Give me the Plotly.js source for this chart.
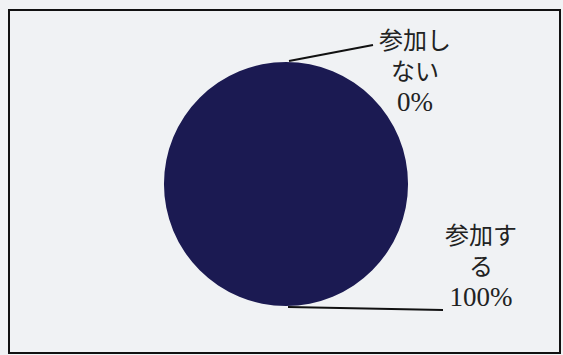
<!DOCTYPE html>
<html>
<head>
<meta charset="utf-8">
<script src="https://cdn.plot.ly/plotly-3.0.1.min.js"></script>
<style>html,body{margin:0;padding:0;background:#f0f2f4;}#chart{width:563px;height:355px;}</style>
</head>
<body>
<div id="chart"></div>
<script>
// Data
var categories = ['参加しない', '参加する'];
var values = [0, 100];
var labelLines = [['参加し', 'ない'], ['参加す', 'る']];
var colors = ['#ffffff', '#1b1a52'];

var W = 563, H = 355;
function px(x) { return x / W; }
function py(y) { return 1 - y / H; }

var total = values.reduce(function (a, b) { return a + b; }, 0);
function labelText(i) {
  var pct = '<span style="font-size:27px">' + Math.round(values[i] / total * 100) + '%</span>';
  return labelLines[i].concat([pct]).join('<br>');
}

var trace = {
  type: 'pie',
  labels: categories,
  values: values,
  sort: false,
  direction: 'clockwise',
  textinfo: 'none',
  hoverinfo: 'label+percent',
  marker: { colors: colors, line: { width: 0 } },
  domain: { x: [px(164), px(408)], y: [py(306), py(62)] },
  showlegend: false
};

var font = { family: '"Liberation Serif", "Noto Sans CJK JP", serif', size: 24, color: '#222222' };

var layout = {
  width: W, height: H,
  margin: { l: 0, r: 0, t: 0, b: 0 },
  paper_bgcolor: '#f0f2f4',
  plot_bgcolor: '#f0f2f4',
  showlegend: false,
  annotations: [
    { xref: 'paper', yref: 'paper', x: px(415), y: py(73), text: labelText(0), showarrow: false,
      xanchor: 'center', yanchor: 'middle', align: 'center', font: font },
    { xref: 'paper', yref: 'paper', x: px(481), y: py(267), text: labelText(1), showarrow: false,
      xanchor: 'center', yanchor: 'middle', align: 'center', font: font }
  ],
  shapes: [
    // frame
    { type: 'rect', xref: 'paper', yref: 'paper', x0: px(9), x1: px(560), y0: py(353), y1: py(10),
      line: { color: '#111111', width: 2 } },
    // leader lines
    { type: 'line', xref: 'paper', yref: 'paper', x0: px(289), y0: py(61), x1: px(373), y1: py(45),
      line: { color: '#111111', width: 2 } },
    { type: 'line', xref: 'paper', yref: 'paper', x0: px(288), y0: py(307), x1: px(443), y1: py(310),
      line: { color: '#111111', width: 2 } }
  ]
};

Plotly.newPlot('chart', [trace], layout, { displayModeBar: false, staticPlot: true });
</script>
</body>
</html>
